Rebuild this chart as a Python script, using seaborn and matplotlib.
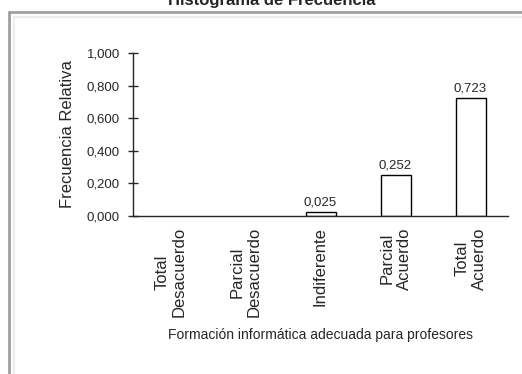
import numpy as np
import pandas as pd
import matplotlib
matplotlib.use("Agg")
import matplotlib.pyplot as plt
import seaborn as sns
from matplotlib.lines import Line2D

# datos
categorias = ["Total\nDesacuerdo", "Parcial\nDesacuerdo", "Indiferente", "Parcial\nAcuerdo", "Total\nAcuerdo"]
frecuencia = [0.0, 0.0, 0.025, 0.252, 0.723]
yticks = [0.0, 0.2, 0.4, 0.6, 0.8, 1.0]

sns.set_style("ticks")
plt.rcParams['font.family'] = ['Liberation Sans', 'DejaVu Sans']

df = pd.DataFrame({"Categoria": categorias, "Frecuencia": frecuencia})

fig = plt.figure(figsize=(5.22, 3.74), dpi=100)
ax = fig.add_axes([133/522, 1 - 216/374, 375/522, (216 - 53)/374])

sns.barplot(data=df, x="Categoria", y="Frecuencia", ax=ax, color="white",
            edgecolor="black", linewidth=1.0, width=0.4, saturation=1)
# barras de altura cero sin borde
for p in ax.patches:
    if p.get_height() == 0:
        p.set_linewidth(0)

# etiquetas de valores
for i, v in enumerate(frecuencia):
    if v > 0:
        ax.text(i, v + 0.02, f"{v:.3f}".replace('.', ','), ha='center', va='bottom', fontsize=9.5)

ax.set_ylim(0, 1.0)
ax.set_xlim(-0.5, len(categorias) - 0.5)
ax.set_yticks(yticks)
ax.set_yticklabels([f"{t:.3f}".replace('.', ',') for t in yticks], fontsize=9.5)
ax.tick_params(axis='y', direction='inout', length=7, width=1, pad=6)
ax.tick_params(axis='x', length=0, pad=8)
ax.set_xticks(range(len(categorias)))
ax.set_xticklabels(categorias, rotation=90, fontsize=12, va='top', ha='center',
                   multialignment='center')
ax.set_ylabel("Frecuencia Relativa", fontsize=12, labelpad=8)
ax.set_xlabel("Formación informática adecuada para profesores", fontsize=10, labelpad=8)
sns.despine(ax=ax)
for s in ['left', 'bottom']:
    ax.spines[s].set_linewidth(1.0)

# marco
fig.add_artist(Line2D([9/522, 9/522], [0, 1 - 12/374], color="#a0a0a0", lw=2, transform=fig.transFigure))
fig.add_artist(Line2D([9/522, 1], [1 - 12/374, 1 - 12/374], color="#a0a0a0", lw=2, transform=fig.transFigure))
fig.add_artist(Line2D([14/522, 14/522], [0, 1 - 17/374], color="#ececec", lw=1.5, transform=fig.transFigure))
fig.add_artist(Line2D([14/522, 1], [1 - 17/374, 1 - 17/374], color="#ececec", lw=1.5, transform=fig.transFigure))

fig.text(0.52, 1.0, "Histograma de Frecuencia", ha='center', va='center', fontsize=12, fontweight='bold')

fig.savefig("out.png", dpi=100)
